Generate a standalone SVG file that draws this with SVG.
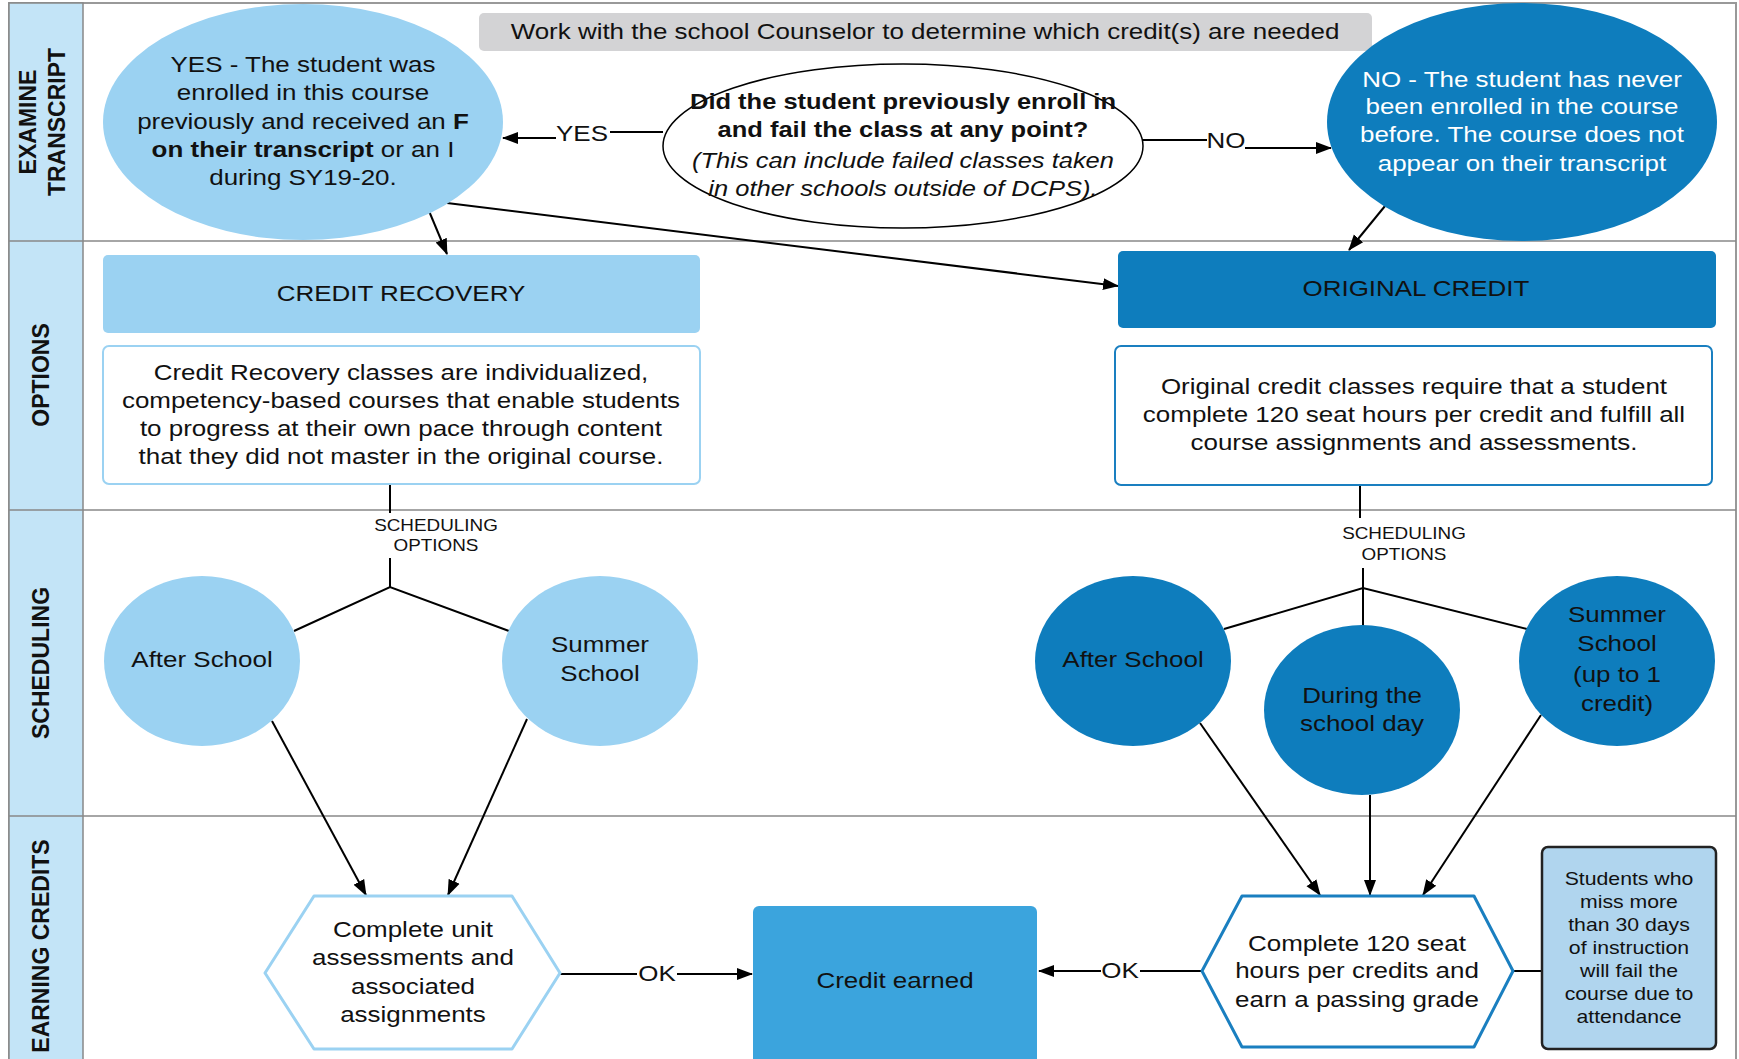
<svg xmlns="http://www.w3.org/2000/svg" width="1739" height="1059" viewBox="0 0 1739 1059">
<defs>
<marker id="arr" markerUnits="userSpaceOnUse" markerWidth="16" markerHeight="14" refX="15" refY="7" orient="auto">
<path d="M0,1 L16,7 L0,13 Z" fill="#000"/>
</marker>
</defs>
<style>
text{font-family:"Liberation Sans",Arial,sans-serif;fill:#111;}
.t,.sm,.n,.lb{text-anchor:middle;transform-box:fill-box;transform-origin:center;transform:scaleX(1.18);}
.t{font-size:22px;}
.q{font-size:21.6px;}
.lb{font-size:22px;}
.w{fill:#fff;}
.b{font-weight:bold;}
.lane{font-size:23px;font-weight:bold;text-anchor:middle;}
.sm{font-size:16px;}
.n{font-size:18px;}
.c{stroke:#000;stroke-width:2;fill:none;}
.ca{stroke:#000;stroke-width:2;fill:none;marker-end:url(#arr);}
.sep{stroke:#888;stroke-width:1.5;}
.lt{fill:#9bd2f2;}
.dk{fill:#0e7dbd;}
</style>
<rect x="0" y="0" width="1739" height="1059" fill="#fff"/>
<g id="lanes">
<rect x="9" y="3" width="1727" height="1062" fill="#fff" stroke="#999" stroke-width="2"/>
<rect x="9" y="3" width="74" height="1062" fill="#c3e4f7" stroke="#888" stroke-width="1.5"/>
<line class="sep" x1="9" y1="241" x2="1736" y2="241"/>
<line class="sep" x1="9" y1="510" x2="1736" y2="510"/>
<line class="sep" x1="9" y1="816" x2="1736" y2="816"/>
<text class="lane" transform="translate(36,122) rotate(-90)">EXAMINE</text>
<text class="lane" transform="translate(65,122) rotate(-90)">TRANSCRIPT</text>
<text class="lane" transform="translate(49,375) rotate(-90)">OPTIONS</text>
<text class="lane" transform="translate(49,663) rotate(-90)">SCHEDULING</text>
<text class="lane" transform="translate(49,946) rotate(-90)">EARNING CREDITS</text>
</g>
<g id="connectors">
<line class="c" x1="663" y1="132" x2="610" y2="132"/>
<line class="ca" x1="556" y1="138" x2="503" y2="138"/>
<text class="lb" x="582" y="141">YES</text>
<line class="c" x1="1142" y1="140" x2="1207" y2="140"/>
<line class="ca" x1="1245" y1="148" x2="1331" y2="148"/>
<text class="lb" x="1226" y="148">NO</text>
<line class="ca" x1="429" y1="211" x2="447" y2="254"/>
<line class="ca" x1="447" y1="203" x2="1118" y2="286"/>
<line class="ca" x1="1385" y1="206" x2="1349" y2="250"/>
<line class="c" x1="390" y1="485" x2="390" y2="513"/>
<text class="sm" x="436" y="531">SCHEDULING</text>
<text class="sm" x="436" y="551">OPTIONS</text>
<polyline class="c" points="294,631 390,587 509,631"/>
<line class="c" x1="390" y1="558" x2="390" y2="587"/>
<line class="c" x1="1360" y1="485" x2="1360" y2="518"/>
<text class="sm" x="1404" y="539">SCHEDULING</text>
<text class="sm" x="1404" y="560">OPTIONS</text>
<polyline class="c" points="1224,629 1363,588 1527,629"/>
<line class="c" x1="1363" y1="568" x2="1363" y2="627"/>
<line class="ca" x1="272" y1="721" x2="366" y2="895"/>
<line class="ca" x1="527" y1="719" x2="448" y2="895"/>
<line class="ca" x1="1200" y1="723" x2="1320" y2="895"/>
<line class="ca" x1="1370" y1="795" x2="1370" y2="895"/>
<line class="ca" x1="1541" y1="715" x2="1423" y2="895"/>
<line class="c" x1="560" y1="974" x2="637" y2="974"/>
<line class="ca" x1="677" y1="974" x2="752" y2="974"/>
<text class="lb" x="657" y="981">OK</text>
<line class="c" x1="1202" y1="971" x2="1140" y2="971"/>
<line class="ca" x1="1101" y1="971" x2="1039" y2="971"/>
<text class="lb" x="1120" y="978">OK</text>
<line class="c" x1="1513" y1="971" x2="1542" y2="971"/>
</g>
<g id="counselor">
<rect x="479" y="13" width="893" height="38" rx="5" fill="#d3d3d5"/>
<text class="t" x="925" y="39">Work with the school Counselor to determine which credit(s) are needed</text>
</g>
<g id="yes">
<ellipse cx="303" cy="122" rx="200" ry="118" class="lt"/>
<text class="t" x="303" y="72">YES - The student was</text>
<text class="t" x="303" y="100">enrolled in this course</text>
<text class="t" x="303" y="129">previously and received an <tspan class="b">F</tspan></text>
<text class="t" x="303" y="157"><tspan class="b">on their transcript</tspan> or an I</text>
<text class="t" x="303" y="185">during SY19-20.</text>
</g>
<g id="question">
<ellipse cx="903" cy="146" rx="240" ry="82" fill="#fff" stroke="#000" stroke-width="1.5"/>
<text class="t q b" x="903" y="109">Did the student previously enroll in</text>
<text class="t q b" x="903" y="137">and fail the class at any point?</text>
<text class="t q" x="903" y="168" font-style="italic">(This can include failed classes taken</text>
<text class="t q" x="903" y="196" font-style="italic">in other schools outside of DCPS).</text>
</g>
<g id="no">
<ellipse cx="1522" cy="122" rx="195" ry="119" class="dk"/>
<text class="t w" x="1522" y="87">NO - The student has never</text>
<text class="t w" x="1522" y="114">been enrolled in the course</text>
<text class="t w" x="1522" y="142">before. The course does not</text>
<text class="t w" x="1522" y="171">appear on their transcript</text>
</g>
<g id="credit-recovery">
<rect x="103" y="255" width="597" height="78" rx="5" class="lt"/>
<text class="t" x="401" y="301">CREDIT RECOVERY</text>
</g>
<g id="cr-desc">
<rect x="103" y="346" width="597" height="138" rx="6" fill="#fff" stroke="#9bd2f2" stroke-width="2"/>
<text class="t" x="401" y="380">Credit Recovery classes are individualized,</text>
<text class="t" x="401" y="408">competency-based courses that enable students</text>
<text class="t" x="401" y="436">to progress at their own pace through content</text>
<text class="t" x="401" y="464">that they did not master in the original course.</text>
</g>
<g id="original-credit">
<rect x="1118" y="251" width="598" height="77" rx="5" class="dk"/>
<text class="t" x="1416" y="296">ORIGINAL CREDIT</text>
</g>
<g id="oc-desc">
<rect x="1115" y="346" width="597" height="139" rx="6" fill="#fff" stroke="#1a7fc0" stroke-width="2"/>
<text class="t" x="1414" y="394">Original credit classes require that a student</text>
<text class="t" x="1414" y="422">complete 120 seat hours per credit and fulfill all</text>
<text class="t" x="1414" y="450">course assignments and assessments.</text>
</g>
<g id="cr-after">
<ellipse cx="202" cy="661" rx="98" ry="85" class="lt"/>
<text class="t" x="202" y="667">After School</text>
</g>
<g id="cr-summer">
<ellipse cx="600" cy="661" rx="98" ry="85" class="lt"/>
<text class="t" x="600" y="652">Summer</text>
<text class="t" x="600" y="681">School</text>
</g>
<g id="oc-after">
<ellipse cx="1133" cy="661" rx="98" ry="85" class="dk"/>
<text class="t" x="1133" y="667">After School</text>
</g>
<g id="oc-during">
<ellipse cx="1362" cy="710" rx="98" ry="85" class="dk"/>
<text class="t" x="1362" y="703">During the</text>
<text class="t" x="1362" y="731">school day</text>
</g>
<g id="oc-summer">
<ellipse cx="1617" cy="661" rx="98" ry="85" class="dk"/>
<text class="t" x="1617" y="622">Summer</text>
<text class="t" x="1617" y="651">School</text>
<text class="t" x="1617" y="682">(up to 1</text>
<text class="t" x="1617" y="711">credit)</text>
</g>
<g id="cr-complete">
<polygon points="265,973 314,896 512,896 560,973 512,1049 314,1049" fill="#fff" stroke="#9bd2f2" stroke-width="3" stroke-linejoin="round"/>
<text class="t" x="413" y="937">Complete unit</text>
<text class="t" x="413" y="965">assessments and</text>
<text class="t" x="413" y="994">associated</text>
<text class="t" x="413" y="1022">assignments</text>
</g>
<g id="credit-earned">
<rect x="753" y="906" width="284" height="160" rx="6" fill="#3ba4dd"/>
<text class="t" x="895" y="988">Credit earned</text>
</g>
<g id="oc-complete">
<polygon points="1202,971 1242,896 1474,896 1513,971 1474,1047 1242,1047" fill="#fff" stroke="#1a7fc0" stroke-width="3" stroke-linejoin="round"/>
<text class="t" x="1357" y="951">Complete 120 seat</text>
<text class="t" x="1357" y="978">hours per credits and</text>
<text class="t" x="1357" y="1007">earn a passing grade</text>
</g>
<g id="attendance-note">
<rect x="1542" y="847" width="174" height="202" rx="6" fill="#b0d5ee" stroke="#222" stroke-width="2.5"/>
<text class="n" x="1629" y="885">Students who</text>
<text class="n" x="1629" y="908">miss more</text>
<text class="n" x="1629" y="931">than 30 days</text>
<text class="n" x="1629" y="954">of instruction</text>
<text class="n" x="1629" y="977">will fail the</text>
<text class="n" x="1629" y="1000">course due to</text>
<text class="n" x="1629" y="1023">attendance</text>
</g>
</svg>
